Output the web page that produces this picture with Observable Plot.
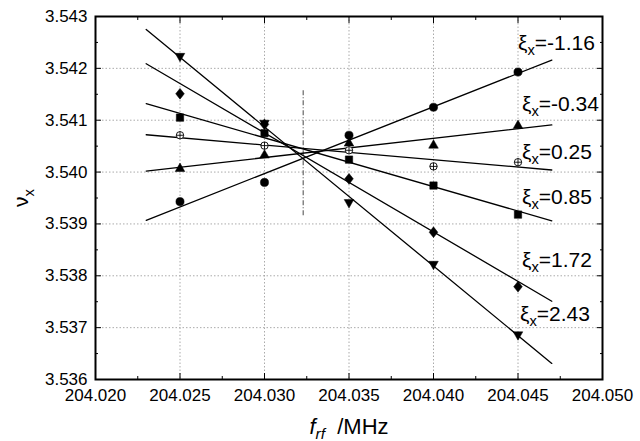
<!DOCTYPE html>
<html><head><meta charset="utf-8">
<script src="https://cdn.jsdelivr.net/npm/d3@7"></script>
<script src="https://cdn.jsdelivr.net/npm/@observablehq/plot@0.6"></script>
<style>body{margin:0;background:#fff} svg{display:block}</style>
</head><body><div id="chart"></div>
<script>
// ---- data ----
const freq = [204.025, 204.030, 204.035, 204.040, 204.045];
const xiLabels = ["-1.16", "-0.34", "0.25", "0.85", "1.72", "2.43"];
const nu_m116 = [3.53943, 3.53980, 3.54071, 3.54125, 3.54193]; // circle
const nu_m034 = [3.54008, 3.54034, 3.54057, 3.54053, 3.54091]; // triangle up
const nu_025  = [3.54071, 3.54051, 3.54042, 3.54011, 3.54019]; // circle-plus
const nu_085  = [3.54105, 3.54075, 3.54024, 3.53974, 3.53918]; // square
const nu_172  = [3.54151, 3.54092, 3.53987, 3.53884, 3.53779]; // diamond
const nu_243  = [3.54222, 3.54093, 3.53940, 3.53821, 3.53685]; // triangle down

const fitX = [204.023, 204.047];
const fit_m116 = [3.53907, 3.54216];
const fit_m034 = [3.54002, 3.54091];
const fit_025  = [3.54072, 3.54004];
const fit_085  = [3.54132, 3.53906];
const fit_172  = [3.54209, 3.53751];
const fit_243  = [3.54275, 3.53631];

const labelX = [204.04500, 204.04524, 204.04524, 204.04524, 204.04524, 204.04512];
const labelY = [3.54248, 3.54131, 3.54038, 3.53952, 3.53830, 3.53726];

const vlineX = [204.03229];
const vlineY = [3.53916, 3.54157];

const xMajor = [204.020, 204.025, 204.030, 204.035, 204.040, 204.045, 204.050];
const xMinor = [204.0225, 204.0275, 204.0325, 204.0375, 204.0425, 204.0475];
const yMajor = [3.536, 3.537, 3.538, 3.539, 3.540, 3.541, 3.542, 3.543];
const yMinor = [3.5365, 3.5375, 3.5385, 3.5395, 3.5405, 3.5415, 3.5425];

// ---- custom symbols (designed at r = 4) ----
const sc = size => Math.sqrt(size / Math.PI) / 4;
const triUp = {draw(c, size) { const k = sc(size); c.moveTo(0, -4.8*k); c.lineTo(4.8*k, 3.6*k); c.lineTo(-4.8*k, 3.6*k); c.closePath(); }};
const triDown = {draw(c, size) { const k = sc(size); c.moveTo(0, 4.8*k); c.lineTo(4.8*k, -3.6*k); c.lineTo(-4.8*k, -3.6*k); c.closePath(); }};
const diamond = {draw(c, size) { const k = sc(size); c.moveTo(0, -5*k); c.lineTo(4*k, 0); c.lineTo(0, 5*k); c.lineTo(-4*k, 0); c.closePath(); }};
const square = {draw(c, size) { const k = sc(size); const h = 3.7*k; c.rect(-h, -h, 2*h, 2*h); }};
const circlePlus = {draw(c, size) { const r = 3.7*sc(size); c.moveTo(r, 0); c.arc(0, 0, r, 0, 2*Math.PI); c.moveTo(-r, 0); c.lineTo(r, 0); c.moveTo(0, -r); c.lineTo(0, r); }};

const series = [
  {nu: nu_m116, fit: fit_m116, symbol: "circle", fill: "black", r: 4.1},
  {nu: nu_m034, fit: fit_m034, symbol: triUp, fill: "black", r: 4},
  {nu: nu_025,  fit: fit_025,  symbol: circlePlus, fill: "white", r: 4},
  {nu: nu_085,  fit: fit_085,  symbol: square, fill: "black", r: 4},
  {nu: nu_172,  fit: fit_172,  symbol: diamond, fill: "black", r: 4.3},
  {nu: nu_243,  fit: fit_243,  symbol: triDown, fill: "black", r: 4}
];

const labels = xiLabels.map((v, i) => ({x: labelX[i], y: labelY[i], text: "ξ_x=" + v}));

const fontFam = "'Liberation Sans', Arial, sans-serif";
const fmt3 = d3.format(".3f");

const marks = [
  Plot.gridX(xMajor.slice(1, -1), {stroke: "#aaa", strokeOpacity: 1, strokeDasharray: "1.5,2"}),
  Plot.gridY(yMajor.slice(1, -1), {stroke: "#aaa", strokeOpacity: 1, strokeDasharray: "1.5,2"}),
  Plot.ruleX(vlineX, {y1: vlineY[0], y2: vlineY[1], stroke: "#666", strokeWidth: 1.2, strokeDasharray: "5,2,1,2"})
];
series.forEach(s => {
  marks.push(Plot.line(fitX.map((x, i) => ({x, y: s.fit[i]})), {x: "x", y: "y", stroke: "black", strokeWidth: 1.3}));
});
series.forEach(s => {
  marks.push(Plot.dot(freq.map((f, i) => ({x: f, y: s.nu[i]})), {x: "x", y: "y", symbol: () => s.symbol, r: s.r, fill: s.fill, stroke: "black", strokeWidth: s.fill === "white" ? 0.9 : 0.5}));
});
marks.push(
  Plot.text(labels, {x: "x", y: "y", text: "text", textAnchor: "start", fontSize: 21, fill: "black"}),
  Plot.axisX(xMajor, {tickSize: -6, tickPadding: 15, tickFormat: fmt3, fontSize: 17, label: "f_rf /MHz", labelAnchor: "center", labelArrow: "none", labelOffset: 54}),
  Plot.axisX(xMinor, {tickSize: -3, fill: "none"}),
  Plot.axisX(xMajor, {anchor: "top", tickSize: -6, fill: "none"}),
  Plot.axisX(xMinor, {anchor: "top", tickSize: -3, fill: "none"}),
  Plot.axisY(yMajor, {tickSize: -6, tickPadding: 14, tickFormat: fmt3, fontSize: 17, label: "ν_x", labelAnchor: "center", labelArrow: "none", labelOffset: 82}),
  Plot.axisY(yMinor, {tickSize: -3, fill: "none"}),
  Plot.axisY(yMajor, {anchor: "right", tickSize: -6, fill: "none"}),
  Plot.axisY(yMinor, {anchor: "right", tickSize: -3, fill: "none"}),
  Plot.frame({stroke: "black", strokeWidth: 2})
);

const chart = Plot.plot({
  width: 640, height: 441,
  marginLeft: 95, marginRight: 38, marginTop: 16, marginBottom: 62,
  style: {fontFamily: fontFam, fontSize: "17px", color: "black", background: "white", overflow: "visible"},
  x: {domain: [204.020, 204.050], label: null},
  y: {domain: [3.536, 3.543], label: null},
  symbol: {type: "identity"},
  marks
});
document.getElementById("chart").appendChild(chart);

// ---- turn "a_b rest" strings into real sub-scripted text ----
const svgNS = "http://www.w3.org/2000/svg";
function tspan(parent, txt, attrs) {
  const t = document.createElementNS(svgNS, "tspan");
  t.textContent = txt;
  for (const k in attrs) t.setAttribute(k, attrs[k]);
  parent.appendChild(t);
  return t;
}
chart.querySelectorAll("text").forEach(el => {
  const s = el.textContent;
  if (el.children.length || !s.includes("_")) return;
  const m = s.match(/^(.*?)_(\w+)(.*)$/);
  if (!m) return;
  const [, main, sub, rest] = m;
  el.textContent = "";
  const italic = main === "f";
  if (italic) el.setAttribute("font-size", 22);
  if (main === "ν") el.setAttribute("font-size", 21);
  tspan(el, main, italic ? {"font-style": "italic"} : {});
  tspan(el, sub, {"font-size": "0.7em", dy: "0.35em", ...(italic ? {"font-style": "italic"} : {})});
  const last = tspan(el, rest, {dy: "-0.245em"});
  if (italic) last.textContent = "\u00a0\u00a0" + rest.trim();
});
</script>
</body></html>
